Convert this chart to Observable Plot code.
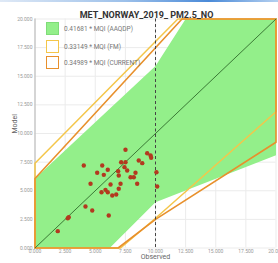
<!DOCTYPE html>
<html><head><meta charset="utf-8">
<script src="https://cdn.jsdelivr.net/npm/d3@7"></script>
<script src="https://cdn.jsdelivr.net/npm/@observablehq/plot@0.6"></script>
<style>
body{margin:0;background:#fff;font-family:Roboto,"Liberation Sans",sans-serif;}
#wrap{position:relative;width:278px;height:263px;overflow:hidden}
#bar{position:absolute;left:0;top:0;width:278px;height:2px;background:linear-gradient(90deg,#dfe9f6,#9cc0ea 45%,#4a8ad8 75%,#b5d0f0)}
.sw{position:absolute;left:46px;width:11px;height:11px;box-sizing:content-box}
.lt{position:absolute;left:64px;font-size:6.5px;color:#777;white-space:nowrap;line-height:8px}
</style></head>
<body><div id="wrap"><div id="chart"></div><div id="bar"></div><div id="legend"></div></div>
<script>
const title = "MET_NORWAY_2019_ PM2.5_NO";
const xLabel = "Observed";
const yLabel = "Model";
const xTicks = [0, 2.5, 5, 7.5, 10, 12.5, 15, 17.5, 20];
const yTicks = [0, 2.5, 5, 7.5, 10, 12.5, 15, 17.5, 20];
const limitValue = [10];
const diagonal = [0, 20];

// Acceptance zones (polygon vertices)
const greenX = [0, 6.2, 10, 20, 20, 12.5, 10, 0];
const greenY = [0, 0, 4.0, 8.1, 20, 20, 15.9, 6.07];
const yellowX = [0, 7.1, 10, 20, 20, 11.85, 0, 0];
const yellowY = [0, 0, 2.6, 11.9, 20, 20, 7.4, 0];
const orangeX = [0, 6.9, 10, 20, 20, 12.2, 0, 0];
const orangeY = [0, 0, 2.5, 9.24, 20, 20, 6.07, 0];

const legendLabels = ["0.41681 * MQI (AAQDP)", "0.33149 * MQI (FM)", "0.34989 * MQI (CURRENT)"];

// Observed / Model pairs
const obs = [1.89, 2.72, 2.80, 4.19, 4.75, 6.12, 4.05, 5.58, 5.16, 5.71, 6.04, 4.61, 5.52, 5.85, 6.04, 6.41, 6.74, 6.27, 6.95, 7.10, 6.95, 6.90, 7.15, 7.51, 7.51, 7.43, 7.65, 7.93, 8.34, 8.48, 8.20, 8.61, 8.90, 9.31, 9.59, 9.64, 10.08, 10.14];
const mod = [1.47, 2.60, 2.69, 3.62, 3.28, 2.84, 7.21, 7.21, 6.57, 6.39, 6.83, 5.61, 4.87, 5.08, 4.87, 4.59, 4.67, 5.55, 5.17, 5.61, 6.33, 6.71, 7.49, 7.49, 8.58, 7.06, 6.77, 6.18, 6.57, 5.61, 6.18, 7.64, 7.41, 8.28, 8.08, 7.88, 6.62, 5.37];

const toPts = (xs, ys) => xs.map((x, i) => ({x, y: ys[i]}));
const green = toPts(greenX, greenY);
const yellow = toPts(yellowX, yellowY);
const orange = toPts(orangeX, orangeY);
const points = obs.map((o, i) => ({o, m: mod[i]}));
const fmt = d3.format(".3f");

const chart = Plot.plot({
  width: 278, height: 263,
  marginTop: 18.5, marginBottom: 15.5, marginLeft: 34.5, marginRight: 2.5,
  style: {fontFamily: "Roboto, 'Liberation Sans', sans-serif", fontSize: "5px", color: "#999", background: "transparent", overflow: "visible"},
  x: {domain: [0, 20], ticks: xTicks, tickFormat: fmt, tickSize: 0, tickPadding: 1.5, label: null},
  y: {domain: [0, 20], ticks: yTicks, tickFormat: fmt, tickSize: 0, tickPadding: 2.5, label: null},
  marks: [
    Plot.gridX(xTicks, {stroke: "#ebebeb", strokeOpacity: 1}),
    Plot.gridY(yTicks, {stroke: "#ebebeb", strokeOpacity: 1}),
    Plot.ruleX([0], {stroke: "#b5b5b5", strokeWidth: 1}),
    Plot.line(green, {x: "x", y: "y", fill: "#93ef8a", stroke: "none"}),
    Plot.line(yellow, {x: "x", y: "y", stroke: "#f4c64a", strokeWidth: 1.5}),
    Plot.line(orange, {x: "x", y: "y", stroke: "#e8902c", strokeWidth: 1.6}),
    Plot.line(diagonal, {x: d => d, y: d => d, stroke: "#3a7a35", strokeWidth: 1}),
    Plot.ruleX(limitValue, {stroke: "#444", strokeWidth: 1, strokeDasharray: "3,2.5"}),
    Plot.dot(points, {x: "o", y: "m", r: 2.2, fill: "#b3391f", stroke: "none"}),
    Plot.text([title], {frameAnchor: "top", dy: -7.5, dx: -9, fontSize: 9, fontWeight: "bold", fill: "#333"}),
    Plot.text([xLabel], {frameAnchor: "bottom", dy: 11, fontSize: 7, fill: "#666"}),
    Plot.text([yLabel], {frameAnchor: "left", dx: -20, rotate: -90, fontSize: 7, fill: "#666"})
  ]
});
document.getElementById("chart").append(chart);

const swStyles = [
  {top: 22, bg: "#93ef8a", border: "1.5px solid #7fdc78"},
  {top: 39.5, bg: "#fff", border: "1.5px solid #f4c64a"},
  {top: 55.5, bg: "#fff", border: "1.5px solid #e8902c"}
];
const leg = document.getElementById("legend");
legendLabels.forEach((t, i) => {
  const s = swStyles[i];
  const sw = document.createElement("div");
  sw.className = "sw";
  sw.style.top = s.top + "px";
  sw.style.background = s.bg;
  sw.style.border = s.border;
  leg.append(sw);
  const lt = document.createElement("div");
  lt.className = "lt";
  lt.style.top = (s.top + 3) + "px";
  lt.textContent = t;
  leg.append(lt);
});
</script>
</body></html>
